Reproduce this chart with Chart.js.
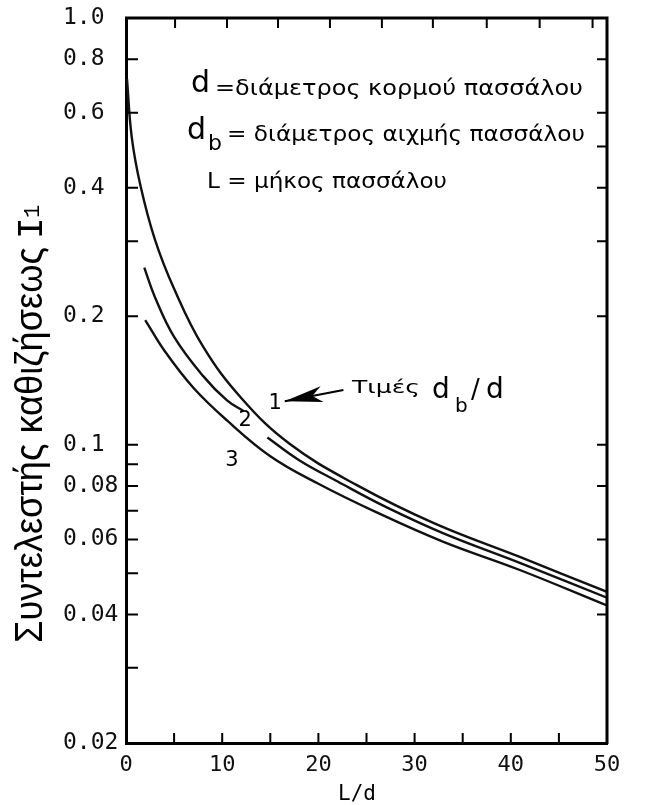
<!DOCTYPE html>
<html>
<head>
<meta charset="utf-8">
<script src="https://cdn.jsdelivr.net/npm/chart.js@4.4.1/dist/chart.umd.min.js"></script>
<style>
  html, body { margin: 0; padding: 0; background: #fff; }
  #wrap { width: 658px; height: 805px; }
</style>
</head>
<body>
<div id="wrap"><canvas id="chart" width="658" height="805"></canvas></div>
<script>
// curves (L/d -> I1)
const curve1X = [0.1, 0.6, 1.5, 3, 5, 8, 12, 17, 24, 32, 41, 50];
const curve1Y = [0.72, 0.525, 0.405, 0.303, 0.232, 0.170, 0.1285, 0.1005, 0.0804, 0.0655, 0.0545, 0.0452];

// curve 2 is broken where its number sits
const curve2X = [1.9, 3, 5, 8, 10.5, 12.2, 13.4, 14.7, 18, 22, 27, 33, 41, 50];
const curve2Y = [0.26, 0.222, 0.179, 0.145, 0.127, 0.12, null, 0.104, 0.092, 0.082, 0.0715, 0.062, 0.0528, 0.0438];

const curve3X = [2, 4, 7, 10.5, 15, 20, 26, 33, 41, 50];
const curve3Y = [0.196, 0.166, 0.136, 0.114, 0.094, 0.081, 0.0695, 0.0592, 0.0508, 0.042];

const curveNames = ['1', '2', '3'];

// axis ticks
const xLabeled = [0, 10, 20, 30, 40, 50];
const xMinor = [5, 15, 25, 35, 45];
const xTopTicks = [5.1, 10.5, 15.8, 21.2, 26.6, 31.9, 37.5, 43.0, 48.5];
const yLabeled = [1.0, 0.8, 0.6, 0.4, 0.2, 0.1, 0.08, 0.06, 0.04, 0.02];
const yLabelText = ['1.0', '0.8', '0.6', '0.4', '0.2', '0.1', '0.08', '0.06', '0.04', '0.02'];
const yMinor = [0.3, 0.09, 0.07, 0.05, 0.03];
const yRightTicks = [0.8, 0.6, 0.5, 0.4, 0.3, 0.2, 0.1, 0.08, 0.06, 0.04];

// curve number spots (data units)
const labelX = [15.5, 12.4, 11.0];
const labelY = [0.1252, 0.114, 0.092];
const arrowFrom = [22.6, 0.1343];
const arrowTo = [16.5, 0.1265];

const yTitle = 'Συντελεστής καθιζήσεως';
const xTitle = 'L/d';
const noteLines = ['=διάμετρος κορμού πασσάλου', '= διάμετρος αιχμής πασσάλου', 'L = μήκος πασσάλου'];

const toPoints = (xs, ys) => xs.map((x, i) => ({ x: x, y: ys[i] }));

const monoFont = '"DejaVu Sans Mono", monospace';
const sansFont = '"DejaVu Sans", sans-serif';

function fitText(ctx, text, x, y, width, font) {
  ctx.save();
  ctx.font = font;
  const w = ctx.measureText(text).width;
  ctx.translate(x, y);
  ctx.scale(width / w, 1);
  ctx.textAlign = 'left';
  ctx.textBaseline = 'alphabetic';
  ctx.fillText(text, 0, 0);
  ctx.restore();
}

const extrasPlugin = {
  id: 'extras',
  afterDraw(chart) {
    const ctx = chart.ctx;
    const xs = chart.scales.x;
    const ys = chart.scales.y;
    const area = chart.chartArea;
    ctx.save();
    ctx.strokeStyle = '#000';
    ctx.fillStyle = '#000';

    // top and right frame
    ctx.lineWidth = 3;
    ctx.beginPath();
    ctx.moveTo(area.left - 1, area.top);
    ctx.lineTo(area.right, area.top);
    ctx.lineTo(area.right, area.bottom + 1);
    ctx.stroke();

    // inward tick marks
    ctx.lineWidth = 2;
    ctx.beginPath();
    yLabeled.concat(yMinor).forEach(v => {
      const py = ys.getPixelForValue(v);
      ctx.moveTo(area.left, py);
      ctx.lineTo(area.left + 12, py);
    });
    yRightTicks.forEach(v => {
      const py = ys.getPixelForValue(v);
      ctx.moveTo(area.right, py);
      ctx.lineTo(area.right - 10, py);
    });
    xLabeled.concat(xMinor).forEach(v => {
      const px = xs.getPixelForValue(v);
      ctx.moveTo(px, area.bottom);
      ctx.lineTo(px, area.bottom - 10);
    });
    xTopTicks.forEach(v => {
      const px = xs.getPixelForValue(v);
      ctx.moveTo(px, area.top);
      ctx.lineTo(px, area.top + 10);
    });
    ctx.stroke();

    // curve numbers
    ctx.font = '21px ' + sansFont;
    ctx.textAlign = 'center';
    ctx.textBaseline = 'middle';
    curveNames.forEach((n, i) => {
      ctx.fillText(n, xs.getPixelForValue(labelX[i]), ys.getPixelForValue(labelY[i]));
    });

    // arrow to curve 1
    const ax0 = xs.getPixelForValue(arrowFrom[0]), ay0 = ys.getPixelForValue(arrowFrom[1]);
    const ax1 = xs.getPixelForValue(arrowTo[0]), ay1 = ys.getPixelForValue(arrowTo[1]);
    const ang = Math.atan2(ay1 - ay0, ax1 - ax0);
    ctx.lineWidth = 2;
    ctx.beginPath();
    ctx.moveTo(ax0, ay0);
    ctx.lineTo(ax1, ay1);
    ctx.stroke();
    ctx.save();
    ctx.translate(ax1, ay1);
    ctx.rotate(ang);
    ctx.beginPath();
    ctx.moveTo(0, 0);
    ctx.lineTo(-38, -8);
    ctx.lineTo(-28, 0);
    ctx.lineTo(-38, 8);
    ctx.closePath();
    ctx.fill();
    ctx.restore();

    // note next to the arrow
    const nl = area.left, nt = area.top;
    fitText(ctx, 'Τιμές', nl + 226, nt + 375, 68, '18px ' + sansFont);
    ctx.textAlign = 'left';
    ctx.textBaseline = 'alphabetic';
    ctx.font = '28px ' + sansFont;
    ctx.fillText('d', nl + 306, nt + 380);
    ctx.font = '20px ' + sansFont;
    ctx.fillText('b', nl + 329, nt + 394);
    ctx.font = '26px ' + sansFont;
    ctx.fillText('/', nl + 345, nt + 380);
    ctx.font = '28px ' + sansFont;
    ctx.fillText('d', nl + 360, nt + 380);

    // symbol legend block
    ctx.font = '30px ' + sansFont;
    ctx.fillText('d', nl + 65, nt + 74);
    fitText(ctx, noteLines[0], nl + 89, nt + 77, 368, '22px ' + sansFont);
    ctx.font = '30px ' + sansFont;
    ctx.fillText('d', nl + 61, nt + 121);
    ctx.font = '22px ' + sansFont;
    ctx.fillText('b', nl + 82, nt + 132);
    fitText(ctx, noteLines[1], nl + 101, nt + 123, 358, '22px ' + sansFont);
    fitText(ctx, noteLines[2], nl + 81, nt + 170, 240, '22px ' + sansFont);

    // y title, rotated
    ctx.save();
    ctx.translate(42, 643);
    ctx.rotate(-Math.PI / 2);
    fitText(ctx, yTitle, 0, 0, 396, '38px "Liberation Sans", sans-serif');
    ctx.font = '36px "Liberation Mono", monospace';
    ctx.fillText('I', 404, 0);
    ctx.font = '22px "Liberation Mono", monospace';
    ctx.fillText('1', 425, -3);
    ctx.restore();

    // x title
    ctx.font = '21px ' + monoFont;
    ctx.textAlign = 'center';
    ctx.textBaseline = 'alphabetic';
    ctx.fillText(xTitle, 357, 800);

    ctx.restore();
  }
};

const ctx = document.getElementById('chart').getContext('2d');
new Chart(ctx, {
  type: 'line',
  data: {
    datasets: [
      { data: toPoints(curve1X, curve1Y) },
      { data: toPoints(curve2X, curve2Y) },
      { data: toPoints(curve3X, curve3Y) }
    ].map(ds => Object.assign(ds, {
      borderColor: '#111',
      borderWidth: 2.4,
      pointRadius: 0,
      fill: false,
      spanGaps: false,
      tension: 0.4
    }))
  },
  options: {
    responsive: false,
    devicePixelRatio: 1,
    animation: false,
    layout: { padding: { top: 18, right: 51, left: 63, bottom: 0 } },
    plugins: { legend: { display: false }, tooltip: { enabled: false } },
    scales: {
      x: {
        type: 'linear',
        min: 0,
        max: 50,
        afterBuildTicks: s => { s.ticks = xLabeled.map(v => ({ value: v })); },
        afterFit: s => { s.height = 62; },
        grid: { display: false, drawTicks: false },
        border: { display: true, color: '#000', width: 3 },
        ticks: {
          autoSkip: false,
          maxRotation: 0,
          padding: 9,
          color: '#111',
          font: { family: 'DejaVu Sans Mono', size: 22 },
          callback: v => String(v)
        }
      },
      y: {
        type: 'logarithmic',
        min: 0.02,
        max: 1.0,
        afterBuildTicks: s => { s.ticks = yLabeled.map(v => ({ value: v })); },
        afterFit: s => { s.width = 63; },
        grid: { display: false, drawTicks: false },
        border: { display: true, color: '#000', width: 3 },
        ticks: {
          autoSkip: false,
          crossAlign: 'far',
          color: '#111',
          font: { family: 'DejaVu Sans Mono', size: 23 },
          callback: v => {
            const i = yLabeled.indexOf(v);
            return i >= 0 ? yLabelText[i] : '';
          }
        }
      }
    }
  },
  plugins: [extrasPlugin]
});
</script>
</body>
</html>
